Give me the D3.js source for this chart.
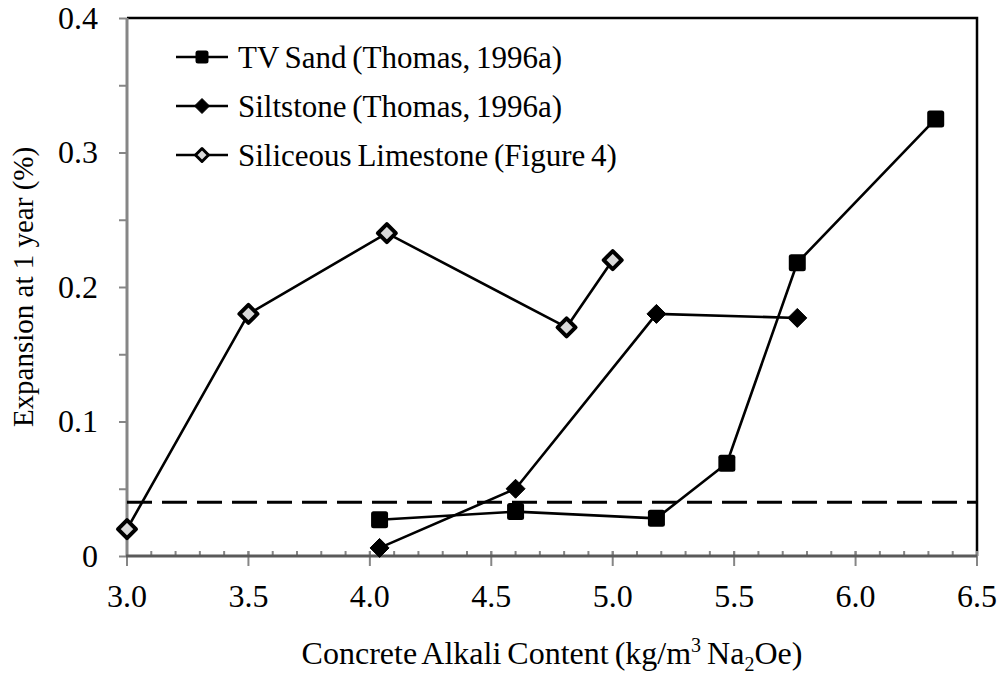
<!DOCTYPE html>
<html>
<head>
<meta charset="utf-8">
<script src="https://cdn.jsdelivr.net/npm/d3@7"></script>
<style>
  body { margin: 0; background: #fff; }
</style>
</head>
<body>
<div id="chart"></div>
<script>
// series data
var tvSandX = [4.04, 4.6, 5.18, 5.47, 5.76, 6.33];
var tvSandY = [0.027, 0.033, 0.028, 0.069, 0.218, 0.325];
var siltX = [4.04, 4.6, 5.18, 5.76];
var siltY = [0.006, 0.05, 0.18, 0.177];
var limeX = [3.0, 3.5, 4.07, 4.81, 5.0];
var limeY = [0.02, 0.18, 0.24, 0.17, 0.22];
var limitY = 0.04;

var xTicks = [3.0, 3.5, 4.0, 4.5, 5.0, 5.5, 6.0, 6.5];
var yTicks = [0, 0.1, 0.2, 0.3, 0.4];
var legendNames = ['TV Sand (Thomas, 1996a)', 'Siltstone (Thomas, 1996a)', 'Siliceous Limestone (Figure 4)'];

(function() {
  var width = 998, height = 675;
  var pLeft = 127, pRight = 977, pTop = 18, pBottom = 556;
  var serif = '"Liberation Serif", "Times New Roman", "DejaVu Serif", serif';

  var x = d3.scaleLinear().domain([3, 6.5]).range([pLeft, pRight]);
  var y = d3.scaleLinear().domain([0, 0.4]).range([pBottom, pTop]);

  var svg = d3.select('#chart').append('svg')
    .attr('width', width)
    .attr('height', height)
    .style('font-family', serif);

  // frame: top and right black
  svg.append('path')
    .attr('d', 'M' + pLeft + ',' + pTop + 'H' + pRight + 'V' + pBottom)
    .attr('fill', 'none')
    .attr('stroke', '#000')
    .attr('stroke-width', 2.5);

  // y axis ticks every 0.05
  var yAxis = d3.axisLeft(y)
    .tickValues(d3.range(0, 0.4001, 0.05))
    .tickSize(8)
    .tickFormat('');
  var gy = svg.append('g').attr('transform', 'translate(' + pLeft + ',0)').call(yAxis);
  gy.select('.domain').remove();
  gy.selectAll('line').attr('stroke', '#868686').attr('stroke-width', 2);

  svg.selectAll('.ylab').data(yTicks).enter().append('text')
    .attr('class', 'ylab')
    .attr('x', 98)
    .attr('y', function(d) { return y(d); })
    .attr('dy', '0.34em')
    .attr('text-anchor', 'end')
    .style('font-size', '32px')
    .text(function(d) { return d === 0 ? '0' : d3.format('.1f')(d); });

  // x axis: minor ticks inside, major crossing
  var gx = svg.append('g');
  gx.selectAll('.minor').data(d3.range(3, 6.5001, 0.1)).enter().append('line')
    .attr('x1', function(d) { return x(d); })
    .attr('x2', function(d) { return x(d); })
    .attr('y1', pBottom - 5)
    .attr('y2', pBottom)
    .attr('stroke', '#868686')
    .attr('stroke-width', 2);
  gx.selectAll('.major').data(xTicks).enter().append('line')
    .attr('x1', function(d) { return x(d); })
    .attr('x2', function(d) { return x(d); })
    .attr('y1', pBottom - 5)
    .attr('y2', pBottom + 10)
    .attr('stroke', '#868686')
    .attr('stroke-width', 2);

  svg.selectAll('.xlab').data(xTicks).enter().append('text')
    .attr('class', 'xlab')
    .attr('x', function(d) { return x(d); })
    .attr('y', 607)
    .attr('text-anchor', 'middle')
    .style('font-size', '32px')
    .text(function(d) { return d3.format('.1f')(d); });

  // axis lines
  svg.append('line')
    .attr('x1', pLeft).attr('x2', pLeft).attr('y1', pTop).attr('y2', pBottom + 1)
    .attr('stroke', '#868686').attr('stroke-width', 3);
  svg.append('line')
    .attr('x1', pLeft - 1).attr('x2', pRight).attr('y1', pBottom).attr('y2', pBottom)
    .attr('stroke', '#5a5a5a').attr('stroke-width', 3);

  // limit line
  svg.append('line')
    .attr('x1', x(3)).attr('x2', x(6.5))
    .attr('y1', y(limitY)).attr('y2', y(limitY))
    .attr('stroke', '#000')
    .attr('stroke-width', 3)
    .attr('stroke-dasharray', '25,10');

  var line = d3.line()
    .x(function(d) { return x(d[0]); })
    .y(function(d) { return y(d[1]); });

  var tvSand = d3.zip(tvSandX, tvSandY);
  var silt = d3.zip(siltX, siltY);
  var lime = d3.zip(limeX, limeY);

  [tvSand, silt, lime].forEach(function(s) {
    svg.append('path')
      .attr('d', line(s))
      .attr('fill', 'none')
      .attr('stroke', '#000')
      .attr('stroke-width', 2.6);
  });

  function square(g, cx, cy, s) {
    g.append('rect')
      .attr('x', cx - s / 2).attr('y', cy - s / 2)
      .attr('width', s).attr('height', s)
      .attr('rx', 2.5)
      .attr('fill', '#000');
  }
  function diamond(g, cx, cy, r, fill, sw) {
    g.append('path')
      .attr('d', 'M' + cx + ',' + (cy - r) + 'L' + (cx + r) + ',' + cy +
        'L' + cx + ',' + (cy + r) + 'L' + (cx - r) + ',' + cy + 'Z')
      .attr('fill', fill)
      .attr('stroke', '#000')
      .attr('stroke-width', sw)
      .attr('stroke-linejoin', 'round');
  }

  var marks = svg.append('g');
  tvSand.forEach(function(d) { square(marks, x(d[0]), y(d[1]), 17); });
  silt.forEach(function(d) { diamond(marks, x(d[0]), y(d[1]), 9.5, '#000', 1); });
  lime.forEach(function(d) { diamond(marks, x(d[0]), y(d[1]), 9, '#d9d9d9', 4); });

  // legend
  var leg = svg.append('g');
  legendNames.forEach(function(name, i) {
    var ly = 57 + i * 49;
    leg.append('line')
      .attr('x1', 176).attr('x2', 228)
      .attr('y1', ly).attr('y2', ly)
      .attr('stroke', '#000').attr('stroke-width', 2.6);
    if (i === 0) square(leg, 202, ly, 13);
    if (i === 1) diamond(leg, 202, ly, 7.5, '#000', 1);
    if (i === 2) diamond(leg, 202, ly, 6.5, '#d9d9d9', 3);
    leg.append('text')
      .attr('x', 238)
      .attr('y', ly)
      .attr('dy', '0.34em')
      .style('font-size', '31px')
      .style('word-spacing', '-2px')
      .text(name);
  });

  // axis titles
  svg.append('text')
    .attr('transform', 'translate(33,' + ((pTop + pBottom) / 2) + ') rotate(-90)')
    .attr('text-anchor', 'middle')
    .style('font-size', '29px')
    .text('Expansion at 1 year (%)');

  var xt = svg.append('text')
    .attr('x', (pLeft + pRight) / 2)
    .attr('y', 664)
    .attr('text-anchor', 'middle')
    .style('font-size', '32px')
    .style('word-spacing', '-2px');
  xt.append('tspan').text('Concrete Alkali Content (kg/m');
  xt.append('tspan').attr('dy', -12).style('font-size', '20px').text('3');
  xt.append('tspan').attr('dy', 12).text(' Na');
  xt.append('tspan').attr('dy', 7).style('font-size', '20px').text('2');
  xt.append('tspan').attr('dy', -7).text('Oe)');
})();
</script>
</body>
</html>
